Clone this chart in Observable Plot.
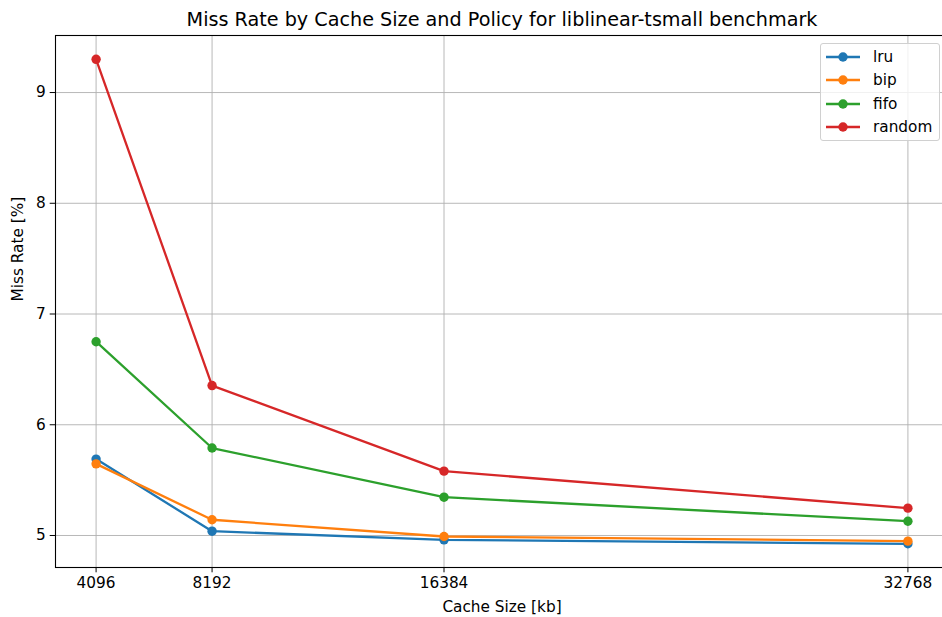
<!DOCTYPE html>
<html>
<head>
<meta charset="utf-8">
<script src="https://cdn.jsdelivr.net/npm/d3@7"></script>
<script src="https://cdn.jsdelivr.net/npm/@observablehq/plot@0.6"></script>
<style>
  html, body { margin: 0; padding: 0; background: white; }
  #wrap { position: relative; width: 942px; height: 617px; font-family: "DejaVu Sans", sans-serif; }
  #legend { position: absolute; left: 820px; top: 43px; width: 120px; height: 98px;
    border: 1px solid #d0d0d0; border-radius: 3px; background: rgba(255,255,255,0.8); box-sizing: border-box; }
  .item { position: absolute; left: 0; height: 20px; display: flex; align-items: center; font-size: 15.3px; color: #000; }
  .item svg { display: block; margin-left: 5px; }
  .item span { margin-left: 13px; }
</style>
</head>
<body>
<div id="wrap"></div>
<script>
const sizes = [4096, 8192, 16384, 32768];
const lru = [5.69, 5.039, 4.961, 4.925];
const bip = [5.647, 5.142, 4.991, 4.949];
const fifo = [6.75, 5.79, 5.346, 5.129];
const random = [9.30, 6.354, 5.581, 5.247];
const policies = ["lru", "bip", "fifo", "random"];
const colors = ["#1f77b4", "#ff7f0e", "#2ca02c", "#d62728"];
const yTicks = [5, 6, 7, 8, 9];
const title = "Miss Rate by Cache Size and Policy for liblinear-tsmall benchmark";
const xLabel = "Cache Size [kb]";
const yLabel = "Miss Rate [%]";

const seriesValues = {lru, bip, fifo, random};
const rows = policies.flatMap(p => sizes.map((s, i) => ({policy: p, size: s, rate: seriesValues[p][i]})));

const seriesMarks = policies.flatMap(p => {
  const data = rows.filter(r => r.policy === p);
  return [
    Plot.line(data, {x: "size", y: "rate", stroke: "policy", strokeWidth: 2.3}),
    Plot.dot(data, {x: "size", y: "rate", fill: "policy", r: 4.7, stroke: null})
  ];
});

const chart = Plot.plot({
  width: 942,
  height: 617,
  marginLeft: 55,
  marginRight: -6,
  marginTop: 35,
  marginBottom: 50,
  style: {fontFamily: "DejaVu Sans, sans-serif", background: "white", color: "black"},
  x: {type: "linear", domain: [2662.4, 34201.6], ticks: sizes, tickFormat: d => String(d), label: null},
  y: {domain: [4.711, 9.515], ticks: yTicks, tickFormat: d => String(d), label: null},
  color: {domain: policies, range: colors},
  marks: [
    Plot.gridX(sizes, {stroke: "#b0b0b0", strokeOpacity: 1, strokeWidth: 0.9}),
    Plot.gridY(yTicks, {stroke: "#b0b0b0", strokeOpacity: 1, strokeWidth: 0.9}),
    ...seriesMarks,
    Plot.frame({stroke: "black", strokeWidth: 1.1}),
    Plot.axisX(sizes, {tickSize: 5.3, tickPadding: 4.5, fontSize: 15.3, label: null, tickFormat: d => String(d)}),
    Plot.axisY(yTicks, {tickSize: 5.3, tickPadding: 4.5, fontSize: 15.3, label: null, tickFormat: d => String(d)}),
    Plot.text([title], {text: d => d, frameAnchor: "top", lineAnchor: "middle", dy: -16, fontSize: 19.2, fill: "black"}),
    Plot.text([xLabel], {text: d => d, frameAnchor: "bottom", lineAnchor: "middle", dy: 40, fontSize: 15.3, fill: "black"}),
    Plot.text([yLabel], {text: d => d, frameAnchor: "left", lineAnchor: "middle", dx: -37, rotate: -90, fontSize: 15.3, fill: "black"})
  ]
});

const wrap = document.getElementById("wrap");
wrap.appendChild(chart);

const legend = d3.select(wrap).append("div").attr("id", "legend");
policies.forEach((p, i) => {
  const item = legend.append("div").attr("class", "item").style("top", (3 + i * 23.3) + "px");
  const svg = item.append("svg").attr("width", 34).attr("height", 14);
  svg.append("line").attr("x1", 0).attr("x2", 34).attr("y1", 7).attr("y2", 7)
    .attr("stroke", colors[i]).attr("stroke-width", 2.3);
  svg.append("circle").attr("cx", 17).attr("cy", 7).attr("r", 4.7).attr("fill", colors[i]);
  item.append("span").text(p);
});
</script>
</body>
</html>
